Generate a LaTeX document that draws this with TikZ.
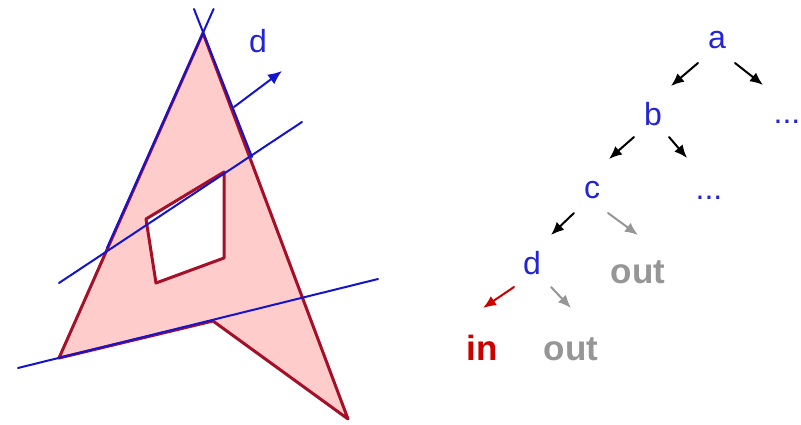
\documentclass[tikz,border=0pt]{standalone}
\usepackage{fontspec}
\setmainfont{Liberation Sans}
\usetikzlibrary{arrows.meta}
\definecolor{fillpink}{RGB}{255,204,204}
\definecolor{edgered}{RGB}{165,15,40}
\definecolor{lineblue}{RGB}{20,20,205}
\definecolor{textblue}{RGB}{35,35,215}
\definecolor{outgray}{RGB}{150,150,150}
\definecolor{inred}{RGB}{205,0,0}

\begin{document}
\begin{tikzpicture}[x=1pt, y=-1pt, line cap=round, line join=round, >=Latex]
\tikzset{area/.style={fill=fillpink}, edge/.style={draw=edgered, line width=3pt},
  sweep/.style={draw=lineblue, line width=2pt},
  letter/.style={font=\fontsize{32}{36}\selectfont, text=textblue, inner sep=0pt, anchor=base},
  leaf/.style={font=\fontsize{35}{40}\selectfont\bfseries, inner sep=0pt, anchor=base},
  tarrow/.style={-{Latex[length=13pt,width=11pt]}, line width=2pt}}
\useasboundingbox (0,0) rectangle (801,425);

% polygon with hole (px)
\coordinate (P1) at (203,33);
\coordinate (P2) at (348,419);
\coordinate (P3) at (213,321);
\coordinate (P4) at (59,358);
\coordinate (H1) at (146,219);
\coordinate (H2) at (224,172);
\coordinate (H3) at (224,258);
\coordinate (H4) at (156,283);

\fill[area, even odd rule] (P1)--(P2)--(P3)--(P4)--cycle (H1)--(H2)--(H3)--(H4)--cycle;
\draw[edge] (P1)--(P2)--(P3)--(P4)--cycle;
\draw[edge] (H1)--(H2)--(H3)--(H4)--cycle;

% sweep lines
\coordinate (L1a) at (213.6,9);
\coordinate (L1b) at (107,248);
\coordinate (L2a) at (194,9);
\coordinate (L2b) at (252,157);
\coordinate (L3a) at (59,283);
\coordinate (L3b) at (302,122);
\coordinate (L4a) at (18,368);
\coordinate (L4b) at (378,279);
\draw[sweep] (L1a)--(L1b);
\draw[sweep] (L2a)--(L2b);
\draw[sweep] (L3a)--(L3b);
\draw[sweep] (L4a)--(L4b);

% direction d
\coordinate (D1) at (234,107);
\coordinate (D2) at (282,71);
\draw[sweep, -{Latex[length=14pt,width=12pt]}] (D1)--(D2);
\node[letter] (dir) at (258,53) {d};

% search tree
\node[letter] (a) at (717,49) {a};
\node[letter] (b) at (653,126) {b};
\node[letter] (dotsA) at (787,124) {...};
\node[letter] (c) at (592,199) {c};
\node[letter] (dotsB) at (709,200) {...};
\node[letter] (d) at (532,274) {d};
\node[leaf, text=outgray] (outA) at (638,283) {out};
\node[leaf, text=inred] (in) at (482,360) {in};
\node[leaf, text=outgray] (outB) at (571,360) {out};

\draw[tarrow] ([shift={(-19,14)}]a.base) -- ([shift={(18,-40)}]b.base);
\draw[tarrow] ([shift={(18,14)}]a.base) -- ([shift={(-24,-39)}]dotsA.base);
\draw[tarrow] ([shift={(-19,11)}]b.base) -- ([shift={(17,-40)}]c.base);
\draw[tarrow] ([shift={(16,11)}]b.base) -- ([shift={(-22,-42)}]dotsB.base);
\draw[tarrow] ([shift={(-18,14)}]c.base) -- ([shift={(19,-39)}]d.base);
\draw[tarrow, outgray] ([shift={(16,14)}]c.base) -- ([shift={(0,-48)}]outA.base);
\draw[tarrow, inred] ([shift={(-18,13)}]d.base) -- ([shift={(1,-52)}]in.base);
\draw[tarrow, outgray] ([shift={(19,13)}]d.base) -- ([shift={(0,-52)}]outB.base);
\end{tikzpicture}
\end{document}
